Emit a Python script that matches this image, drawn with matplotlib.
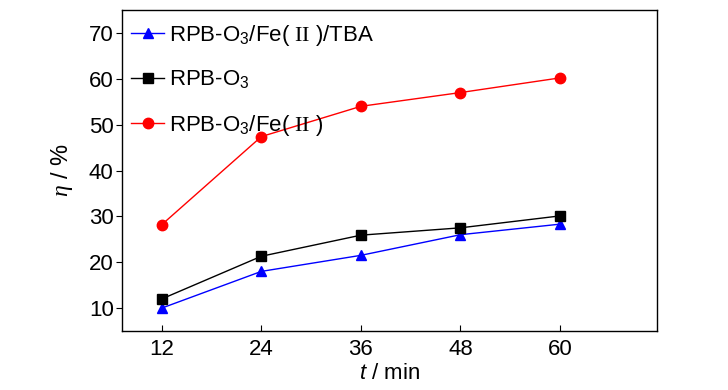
import matplotlib
matplotlib.use("Agg")
import matplotlib.pyplot as plt
from matplotlib import font_manager as fm

t = [12, 24, 36, 48, 60]
tba = [10, 18, 21.5, 26, 28.3]
o3 = [12, 21.3, 25.9, 27.5, 30.1]
fe = [28.2, 47.4, 54, 57, 60.2]
labels = [r"RPB-O$_3$/Fe( $\mathtt{II}$ )/TBA", r"RPB-O$_3$", r"RPB-O$_3$/Fe( $\mathtt{II}$ )"]
xticks = [12, 24, 36, 48, 60]
yticks = [10, 20, 30, 40, 50, 60, 70]


def has(name):
    try:
        fm.findfont(fm.FontProperties(family=name), fallback_to_default=False)
        return True
    except Exception:
        return False


main = 'Liberation Sans Narrow' if has('Liberation Sans Narrow') else 'Liberation Sans'
fs = 17 if main == 'Liberation Sans Narrow' else 16

plt.rcParams['font.family'] = [main, 'DejaVu Sans']
plt.rcParams['mathtext.fontset'] = 'custom'
plt.rcParams['mathtext.rm'] = main
plt.rcParams['mathtext.it'] = main + ':italic'
plt.rcParams['mathtext.tt'] = 'Liberation Serif'
plt.rcParams['mathtext.cal'] = 'Liberation Serif:italic'

fig = plt.figure(figsize=(7.28, 3.9), dpi=100)
ax = fig.add_axes([0.1676, 0.1513, 0.735, 0.823])

ax.plot(t, tba, color='#0000ff', marker='^', markersize=7.5, lw=1, label=labels[0])
ax.plot(t, o3, color='black', marker='s', markersize=7, lw=1, label=labels[1])
ax.plot(t, fe, color='#ff0000', marker='o', markersize=7.5, lw=1, label=labels[2])

ax.set_xlim(7.2, 71.7)
ax.set_ylim(5, 75)
ax.set_xticks(xticks)
ax.set_yticks(yticks)
ax.tick_params(axis='x', direction='in', length=4, labelsize=fs, pad=6)
ax.tick_params(axis='y', direction='out', length=4, labelsize=fs, pad=2)
for s in ax.spines.values():
    s.set_linewidth(1)

ax.set_xlabel("$t$ / min", fontsize=fs, labelpad=2)
ax.set_ylabel(r"$\mathcal{\eta}$ / %", fontsize=fs + 1, labelpad=10)

ax.legend(loc='upper left', frameon=False, fontsize=fs, handlelength=1.5,
          handletextpad=0.2, labelspacing=0.95, borderaxespad=0.0,
          bbox_to_anchor=(0.0, 0.988))

fig.savefig("out.png", dpi=100)
